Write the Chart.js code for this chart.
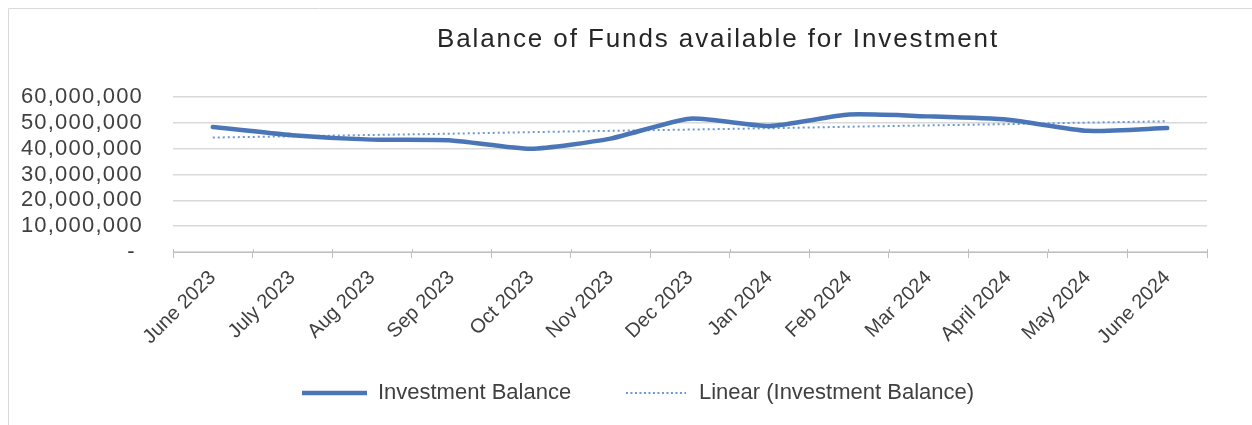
<!DOCTYPE html>
<html>
<head>
<meta charset="utf-8">
<script src="https://cdn.jsdelivr.net/npm/chart.js@4.4.1/dist/chart.umd.min.js"></script>
<style>
  html, body { margin: 0; padding: 0; background: #ffffff; }
  #wrap { position: relative; width: 1252px; height: 425px; }
</style>
</head>
<body>
<div id="wrap"><canvas id="c" width="1252" height="425"></canvas></div>
<script>
const categories = ['June 2023','July 2023','Aug 2023','Sep 2023','Oct 2023','Nov 2023','Dec 2023','Jan 2024','Feb 2024','Mar 2024','April 2024','May 2024','June 2024'];
const investmentBalance = [48400000, 45200000, 43500000, 43200000, 40000000, 43900000, 51600000, 48800000, 53200000, 52500000, 51200000, 46900000, 48000000];
const linearTrend = [44300000, 44800000, 45300000, 45800000, 46400000, 46900000, 47400000, 47900000, 48500000, 49000000, 49500000, 50100000, 50600000];
const yTicks = [0, 10000000, 20000000, 30000000, 40000000, 50000000, 60000000];
const chartTitle = 'Balance of Funds available for Investment';

const FONT = "'Liberation Sans', Arial, sans-serif";
const TEXT = '#404040';
const MAIN_COLOR = '#4a76b8';
const TREND_COLOR = '#6b98d4';

function spacedLabels(scale, spacing) {
  if (scale._spaced) return;
  const orig = scale.drawLabels;
  scale.drawLabels = function (area) {
    const c = this.ctx;
    const prev = c.letterSpacing;
    c.letterSpacing = spacing;
    orig.call(this, area);
    c.letterSpacing = prev || '0px';
  };
  scale._spaced = true;
}

function sampleCanvas(w, h, color, lw, dash) {
  const cv = document.createElement('canvas');
  cv.width = w; cv.height = h;
  const g = cv.getContext('2d');
  g.strokeStyle = color;
  g.lineWidth = lw;
  g.setLineDash(dash);
  g.beginPath();
  g.moveTo(0, h / 2);
  g.lineTo(w, h / 2);
  g.stroke();
  return cv;
}
const solidSample = sampleCanvas(65, 6, MAIN_COLOR, 4.5, []);
const dottedSample = sampleCanvas(60, 4, TREND_COLOR, 2, [2, 2.5]);

const framePlugin = {
  id: 'frame',
  afterLayout(chart) {
    const lg = chart.legend;
    if (lg) { lg.left += 30; lg.right += 30; }
  },
  beforeDraw(chart) {
    const ctx = chart.ctx;
    ctx.save();
    ctx.strokeStyle = '#d9d9d9';
    ctx.lineWidth = 1;
    ctx.beginPath();
    ctx.moveTo(8.5, 425);
    ctx.lineTo(8.5, 8.5);
    ctx.lineTo(1252, 8.5);
    ctx.stroke();
    ctx.fillStyle = '#262626';
    ctx.font = '26px ' + FONT;
    ctx.letterSpacing = '1.9px';
    ctx.textAlign = 'center';
    ctx.textBaseline = 'alphabetic';
    ctx.fillText(chartTitle, 718, 47);
    ctx.restore();
  },
  afterDraw(chart) {
    // small tick stubs crossing the category axis line, as in the reference
    const x = chart.scales.x;
    const ctx = chart.ctx;
    ctx.save();
    ctx.strokeStyle = '#bfbfbf';
    ctx.lineWidth = 1;
    ctx.beginPath();
    for (let i = 0; i <= categories.length; i++) {
      const px = Math.round(x.left + (x.right - x.left) * i / categories.length) + 0.5;
      ctx.moveTo(px, x.top - 3);
      ctx.lineTo(px, x.top);
    }
    ctx.stroke();
    ctx.restore();
  }
};

new Chart(document.getElementById('c'), {
  type: 'line',
  data: {
    labels: categories,
    datasets: [
      {
        label: 'Investment Balance',
        data: investmentBalance,
        borderColor: MAIN_COLOR,
        backgroundColor: MAIN_COLOR,
        borderWidth: 4.5,
        pointRadius: 0,
        tension: 0.2,
        borderCapStyle: 'round',
        borderJoinStyle: 'round'
      },
      {
        label: 'Linear (Investment Balance)',
        data: linearTrend,
        borderColor: TREND_COLOR,
        backgroundColor: TREND_COLOR,
        borderWidth: 2,
        borderDash: [2, 3],
        pointRadius: 0,
        tension: 0
      }
    ]
  },
  options: {
    responsive: false,
    animation: false,
    devicePixelRatio: 1,
    layout: { padding: { left: 10, right: 45, top: 97, bottom: 11 } },
    plugins: {
      title: { display: false },
      tooltip: { enabled: false },
      legend: {
        display: true,
        position: 'bottom',
        labels: {
          usePointStyle: true,
          pointStyleWidth: 64,
          padding: 10,
          color: TEXT,
          font: { family: FONT, size: 22 },
          generateLabels(chart) {
            const items = Chart.defaults.plugins.legend.labels.generateLabels(chart);
            items[0].pointStyle = solidSample;
            items[0].text = items[0].text + '       ';
            items[1].pointStyle = dottedSample;
            return items;
          }
        }
      }
    },
    scales: {
      x: {
        offset: true,
        grid: {
          display: true,
          offset: true,
          drawOnChartArea: false,
          drawTicks: true,
          tickLength: 6,
          color: '#bfbfbf',
          lineWidth: 1
        },
        border: { display: true, color: '#bfbfbf', width: 1 },
        ticks: {
          color: TEXT,
          font: { family: FONT, size: 20 },
          minRotation: 45,
          maxRotation: 45,
          autoSkip: false,
          padding: 8
        },
        afterFit(scale) { scale.height = 120; }
      },
      y: {
        min: 0,
        max: 60000000,
        afterBuildTicks(scale) { scale.ticks = yTicks.map(v => ({ value: v })); },
        grid: { color: '#d9d9d9', lineWidth: 1.5, drawTicks: false },
        border: { display: false },
        ticks: {
          autoSkip: false,
          padding: 30,
          color: TEXT,
          font: { family: FONT, size: 22 },
          callback(v) { return v === 0 ? '- ' : Number(v).toLocaleString('en-US'); }
        },
        afterFit(scale) { scale.width = 163; spacedLabels(scale, '1.2px'); }
      }
    }
  },
  plugins: [framePlugin]
});
</script>
</body>
</html>
